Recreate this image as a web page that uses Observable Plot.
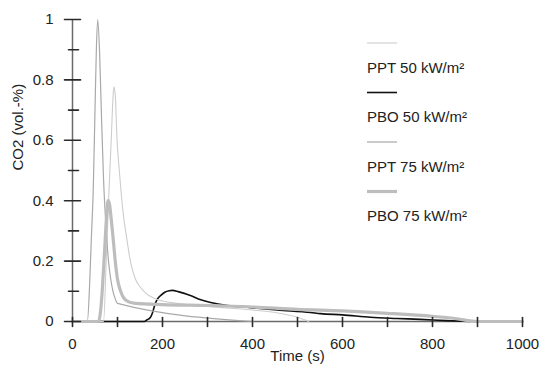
<!DOCTYPE html>
<html>
<head>
<meta charset="utf-8">
<script src="https://cdn.jsdelivr.net/npm/d3@7"></script>
<script src="https://cdn.jsdelivr.net/npm/@observablehq/plot@0.6"></script>
<style>
  html, body { margin: 0; padding: 0; background: #fff; }
</style>
</head>
<body>
<div id="chart"></div>
<script>
// ---- Data ----
const seriesNames = ["PPT 50 kW/m²", "PBO 50 kW/m²", "PPT 75 kW/m²", "PBO 75 kW/m²"];

const ppt50T = [0, 60, 69, 75, 81, 86, 90, 92, 95, 99, 104, 108, 111, 120, 130, 140, 150, 166, 180, 200, 233, 300, 350, 400, 450, 500, 525];
const ppt50V = [0, 0, 0, 0.2, 0.43, 0.6, 0.74, 0.777, 0.75, 0.6, 0.5, 0.43, 0.38, 0.28, 0.19, 0.14, 0.115, 0.09, 0.078, 0.068, 0.06, 0.05, 0.044, 0.038, 0.03, 0.014, 0];

const pbo50T = [0, 160, 165, 173, 178, 184, 190, 196, 205, 215, 222, 235, 262, 285, 307, 344, 396, 455, 529, 551, 600, 662, 720, 773, 830, 884];
const pbo50V = [0, 0, 0.005, 0.013, 0.03, 0.06, 0.077, 0.086, 0.097, 0.102, 0.103, 0.099, 0.086, 0.072, 0.063, 0.053, 0.046, 0.038, 0.03, 0.026, 0.022, 0.014, 0.01, 0.007, 0.003, 0];

const ppt75T = [0, 33, 38, 42, 46, 50, 53, 56, 60, 64, 69, 75, 80, 85, 90, 95, 100, 402];
const ppt75V = [0, 0, 0.12, 0.28, 0.43, 0.7, 0.9, 1.0, 0.9, 0.7, 0.47, 0.3, 0.2, 0.14, 0.1, 0.075, 0.06, 0];

const pbo75T = [0, 58, 62, 66, 70, 75, 79, 82, 86, 90, 95, 100, 107, 113, 125, 140, 200, 300, 400, 500, 600, 700, 800, 850, 900, 1000];
const pbo75V = [0, 0, 0.03, 0.1, 0.2, 0.33, 0.4, 0.39, 0.34, 0.28, 0.2, 0.14, 0.1, 0.08, 0.065, 0.06, 0.056, 0.053, 0.048, 0.04, 0.035, 0.027, 0.017, 0.01, 0, 0];

const yMajor = [0, 0.2, 0.4, 0.6, 0.8, 1];
const yMinor = [0.1, 0.3, 0.5, 0.7, 0.9];
const xMajor = [0, 200, 400, 600, 800, 1000];
const xMinor = [100, 300, 500, 700, 900];

// ---- Styles ----
const styles = {
  "PPT 50 kW/m²": { stroke: "#cdcdcd", width: 1.1 },
  "PBO 50 kW/m²": { stroke: "#111111", width: 1.6 },
  "PPT 75 kW/m²": { stroke: "#a9a9a9", width: 1.2 },
  "PBO 75 kW/m²": { stroke: "#bdbdbd", width: 3.2 }
};

const toRows = (name, T, V) => T.map((t, i) => ({ series: name, t, v: V[i] }));
const ppt50 = toRows(seriesNames[0], ppt50T, ppt50V);
const pbo50 = toRows(seriesNames[1], pbo50T, pbo50V);
const ppt75 = toRows(seriesNames[2], ppt75T, ppt75V);
const pbo75 = toRows(seriesNames[3], pbo75T, pbo75V);

const lineMark = (rows, name) => Plot.line(rows, {
  x: "t", y: "v", stroke: styles[name].stroke, strokeWidth: styles[name].width,
  curve: "monotone-x", strokeLinejoin: "round"
});

// a plain straight tick shape for the vector mark
const tickShape = { draw(context, l) { context.moveTo(0, 0); context.lineTo(0, -l); } };

const axisColor = "#6a6a6a";
const tickColor = "#2a2a2a";
const textColor = "#222";

const chart = Plot.plot({
  width: 539,
  height: 369,
  marginLeft: 72,
  marginRight: 17,
  marginTop: 19,
  marginBottom: 48,
  style: { fontFamily: "'Liberation Sans', Arial, sans-serif", fontSize: "15px", background: "#fff", color: textColor },
  x: { domain: [0, 1000] },
  y: { domain: [0, 1] },
  marks: [
    Plot.ruleY([0], { stroke: axisColor, strokeWidth: 1.5 }),
    Plot.ruleX([0], { stroke: axisColor, strokeWidth: 1.5 }),
    lineMark(pbo50, seriesNames[1]),
    lineMark(ppt50, seriesNames[0]),
    lineMark(ppt75, seriesNames[2]),
    lineMark(pbo75, seriesNames[3]),
    // y ticks crossing the axis
    Plot.vector(yMajor, { x: () => 0, y: d => d, length: 16, rotate: 90, anchor: "middle", shape: tickShape, stroke: tickColor, strokeWidth: 1.6 }),
    Plot.vector(yMinor, { x: () => 0, y: d => d, length: 10, rotate: 90, anchor: "middle", shape: tickShape, stroke: tickColor, strokeWidth: 1.6, dx: 1 }),
    Plot.axisY(yMajor, { tickSize: 0, tickPadding: 19, stroke: "none", fill: textColor, label: null, tickFormat: d => String(d), fontSize: 15 }),
    // x ticks crossing the axis
    Plot.vector(xMajor.concat(xMinor), { x: d => d, y: () => 0, length: 9, rotate: 0, anchor: "middle", shape: tickShape, stroke: tickColor, strokeWidth: 1.6, dy: 0.5 }),
    Plot.axisX(xMajor, { tickSize: 0, tickPadding: 17, stroke: "none", fill: textColor, label: null, tickFormat: d => String(d), fontSize: 15 }),
    // axis titles
    Plot.text(["CO2 (vol.-%)"], { frameAnchor: "left", dx: -54, rotate: -90, text: d => d, fill: textColor, fontSize: 15, lineAnchor: "middle" }),
    Plot.text(["Time (s)"], { frameAnchor: "bottom", dy: 35, text: d => d, fill: textColor, fontSize: 15, lineAnchor: "middle" })
  ]
});

document.getElementById("chart").appendChild(chart);

// ---- Legend (inside the plot area, upper right) ----
const svg = d3.select(chart);
const lg = svg.append("g").attr("class", "legend").attr("text-anchor", "start");
seriesNames.forEach((name, i) => {
  const y0 = 43 + i * 49.5;
  lg.append("line")
    .attr("x1", 367).attr("x2", 397)
    .attr("y1", y0).attr("y2", y0)
    .attr("stroke", styles[name].stroke)
    .attr("stroke-width", styles[name].width);
  lg.append("text")
    .attr("x", 367).attr("y", y0 + 24.5)
    .attr("dy", "0.35em")
    .attr("text-anchor", "start")
    .attr("fill", textColor)
    .attr("font-size", 15)
    .text(name);
});
</script>
</body>
</html>
